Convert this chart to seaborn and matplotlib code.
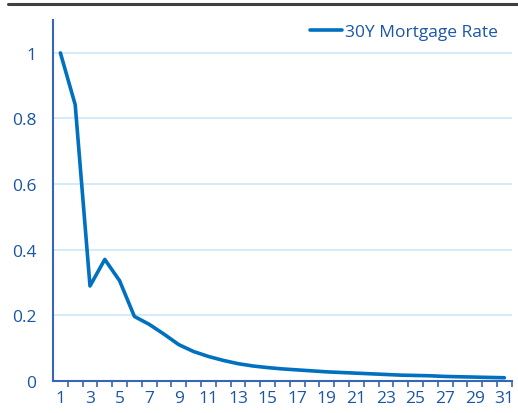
import numpy as np
import pandas as pd
import seaborn as sns
import matplotlib.pyplot as plt
from matplotlib.lines import Line2D
from matplotlib.ticker import FixedLocator

months = list(range(1, 32))
rate = [1.0, 0.842, 0.289, 0.37, 0.305, 0.196, 0.172, 0.142, 0.11, 0.089,
        0.074, 0.062, 0.052, 0.045, 0.040, 0.036, 0.033, 0.030, 0.027, 0.025,
        0.023, 0.021, 0.019, 0.017, 0.016, 0.015, 0.013, 0.012, 0.011, 0.010,
        0.009]
series_name = "30Y Mortgage Rate"
tick_labels = [str(m) for m in months if m % 2 == 1]

df = pd.DataFrame({"month": months, "value": rate, "series": series_name})

line_color = "#0070c0"
text_color = "#1a56a8"
spine_color = "#3566b8"
grid_color = "#cde8f7"

sns.set_style("white")
plt.rcParams['font.family'] = ['Open Sans', 'DejaVu Sans']

fig = plt.figure(figsize=(5.18, 4.14), dpi=100)
ax = fig.add_axes([0.1023, 0.078, 0.8857, 0.871])

sns.lineplot(data=df, x="month", y="value", hue="series", palette=[line_color],
             linewidth=2.6, ax=ax)

ax.set_xlim(0.5, 31.5)
ax.set_ylim(0, 1.1)
ax.set_yticks([0, 0.2, 0.4, 0.6, 0.8, 1.0])
ax.set_yticklabels(["0", "0.2", "0.4", "0.6", "0.8", "1"])
ax.set_xticks([m for m in months if m % 2 == 1])
ax.set_xticklabels(tick_labels)
ax.xaxis.set_minor_locator(FixedLocator(np.arange(1.5, 31.6, 1)))
ax.tick_params(axis="x", which="major", length=0, pad=7, labelsize=12.5, labelcolor=text_color)
ax.tick_params(axis="x", which="minor", length=4, width=1.2, color=spine_color, direction="out", bottom=True)
ax.tick_params(axis="y", length=5, width=1.2, color=spine_color, labelsize=12.5, labelcolor=text_color, pad=7)
ax.set_xlabel("")
ax.set_ylabel("")

ax.grid(axis="y", color=grid_color, linewidth=1.2)
ax.set_axisbelow(True)
for s in ["top", "right"]:
    ax.spines[s].set_visible(False)
for s in ["left", "bottom"]:
    ax.spines[s].set_color(spine_color)
    ax.spines[s].set_linewidth(1.5)

leg = ax.legend(loc="upper right", frameon=False, fontsize=12.5, handlelength=1.8,
                handletextpad=0.2, borderaxespad=0.0, bbox_to_anchor=(0.985, 1.01))
for t in leg.get_texts():
    t.set_color(text_color)

fig.add_artist(Line2D([8 / 518, 1.0], [1 - 5 / 414, 1 - 5 / 414], color="#404040", linewidth=2.2))

fig.savefig("out.png", dpi=100)
